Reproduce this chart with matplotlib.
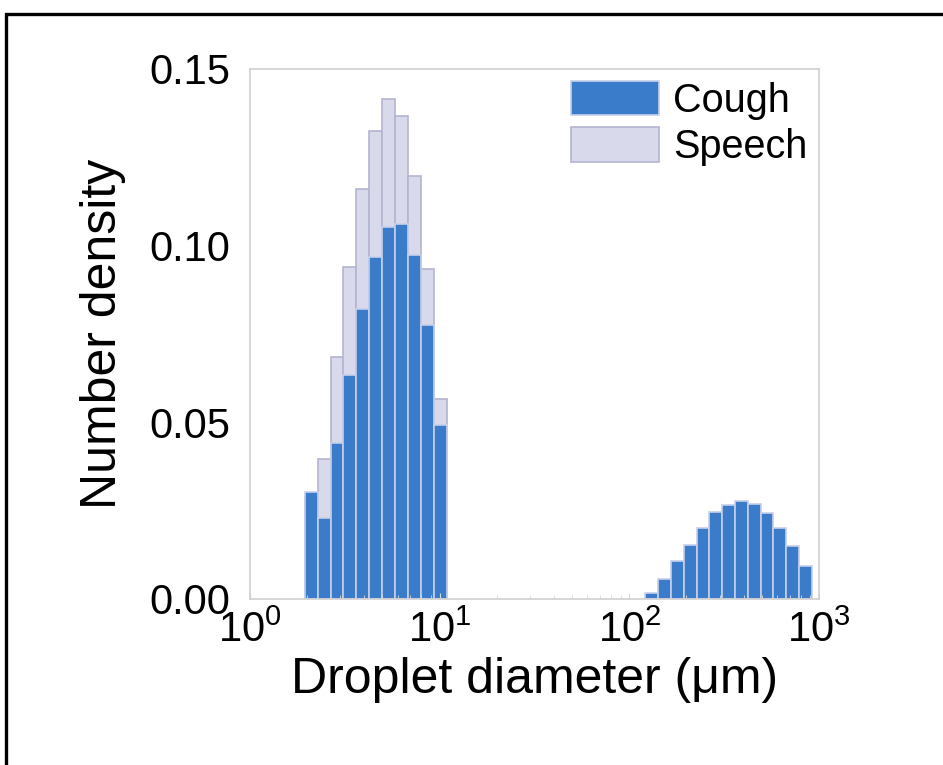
import numpy as np
import matplotlib
matplotlib.use("Agg")
import matplotlib.pyplot as plt
from matplotlib.patches import Rectangle

plt.rcParams['font.family'] = ['Liberation Sans', 'DejaVu Sans']

# bin edges (log10 of diameter in um), small droplets and large droplets
small_lo, small_hi = 0.289, 1.037
large_lo, large_hi = 2.084, 2.963

cough_small = [0.0303, 0.0228, 0.0440, 0.0633, 0.0821, 0.0967, 0.1052, 0.1061, 0.0972, 0.0774, 0.0492]
speech_small = [0.0290, 0.0397, 0.0685, 0.0939, 0.1160, 0.1325, 0.1414, 0.1367, 0.1198, 0.0934, 0.0567]
cough_large = [0.0018, 0.0056, 0.0108, 0.0153, 0.0200, 0.0245, 0.0266, 0.0277, 0.0268, 0.0244, 0.0201, 0.0150, 0.0093]

blue = '#3a7cca'
lav = '#d9d9ec'

def draw(ax, vals, lo, hi, color, edge, label=None):
	edges = np.logspace(lo, hi, len(vals) + 1)
	ax.bar(edges[:-1], vals, width=np.diff(edges), align='edge', color=color,
		edgecolor=edge, linewidth=1.2, label=label)

fig = plt.figure(figsize=(9.43, 7.65), dpi=100)
ax = fig.add_axes([0.265, 0.217, 0.6035, 0.693])

draw(ax, speech_small, small_lo, small_hi, lav, '#b4b4d0', 'Speech')
draw(ax, cough_small, small_lo, small_hi, blue, '#c6d0ea', 'Cough')
draw(ax, cough_large, large_lo, large_hi, blue, '#c6d0ea')

ax.set_xscale('log')
ax.set_xlim(1, 1000)
ax.set_ylim(0, 0.15)
ax.set_yticks([0, 0.05, 0.10, 0.15])
ax.set_yticklabels(['0.00', '0.05', '0.10', '0.15'])
for s in ax.spines.values():
	s.set_color('#cfcfcf')
	s.set_linewidth(1.2)
ax.tick_params(which='both', direction='in', color='#d8d8d8', labelsize=30)
ax.tick_params(axis='y', which='major', length=0, pad=14)
ax.tick_params(axis='x', which='major', length=4, pad=8)
ax.tick_params(axis='x', which='minor', length=3)

ax.set_xlabel('Droplet diameter (μm)', fontsize=36, labelpad=5)
ax.set_ylabel('Number density', fontsize=36, labelpad=17)

h, l = ax.get_legend_handles_labels()
ax.legend(h[::-1], l[::-1], loc='upper right', fontsize=28.5, frameon=False,
	handlelength=2.22, handleheight=0.96, labelspacing=0.2, handletextpad=0.35,
	borderaxespad=0.25, borderpad=0.05)

fig.patches.append(Rectangle((6/943, -0.1), 1.2, 1.1 - 14/765, transform=fig.transFigure,
	fill=False, edgecolor='black', linewidth=2.4))

fig.savefig('out.png', dpi=100)
